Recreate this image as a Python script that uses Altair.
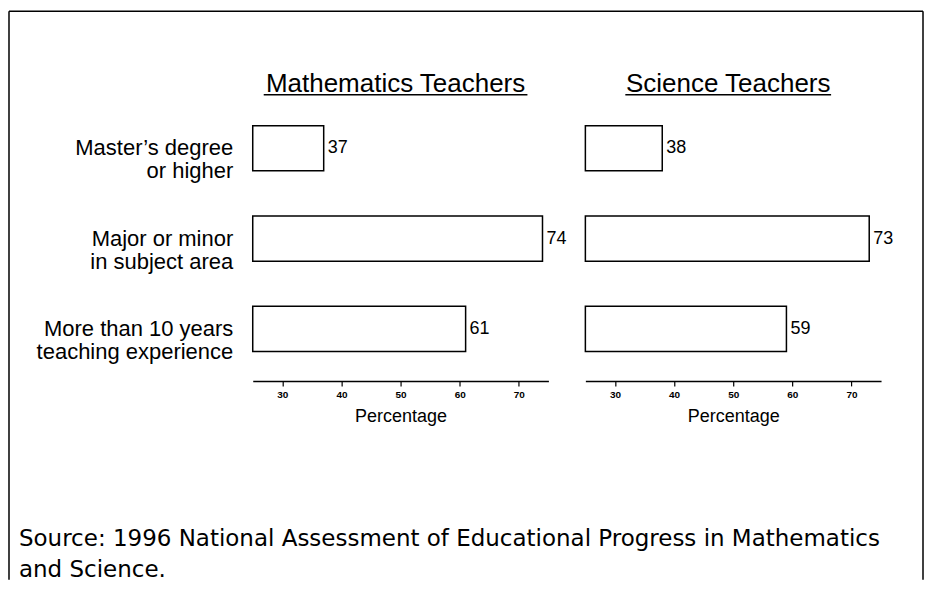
import altair as alt
import pandas as pd

# ---- data ----
categories = [
    "Master’s degree\nor higher",
    "Major or minor\nin subject area",
    "More than 10 years\nteaching experience",
]
math_values = [37, 74, 61]
science_values = [38, 73, 59]
panel_titles = ["Mathematics Teachers", "Science Teachers"]
x_ticks = [30, 40, 50, 60, 70]
axis_min, axis_max = 25, 75
x_title = "Percentage"
source_text = "Source: 1996 National Assessment of Educational Progress in Mathematics\nand Science."

FONT = "Liberation Sans"
PANEL_W = 296
PANEL_H = 285


def one_row(**kw):
    return pd.DataFrame({k: [v] for k, v in kw.items()})


def panel(values, title, show_labels, underline, extras=()):
    df = pd.DataFrame({"cat": categories, "val": values, "base": [axis_min] * len(values)})
    y_enc = alt.Y(
        "cat:N",
        sort=categories,
        scale=alt.Scale(paddingInner=0.5, paddingOuter=0.326),
        axis=alt.Axis(
            title=None, domain=False, ticks=False,
            labelExpr="split(datum.label, '\\n')",
            labelFont=FONT, labelFontSize=22, labelLineHeight=23,
            labelColor="black", labelPadding=20, labelAlign="right",
            labelBaseline="middle", labelLimit=400,
        ) if show_labels else None,
    )
    x_enc = alt.X(
        "val:Q",
        scale=alt.Scale(domain=[axis_min, axis_max], zero=False, nice=False),
        axis=alt.Axis(
            values=x_ticks, title=x_title, grid=False,
            domainColor="black", domainWidth=1.5,
            tickColor="black", tickSize=5, tickWidth=1.2,
            labelFont=FONT, labelFontSize=10, labelFontWeight="bold",
            labelColor="black", labelPadding=4,
            titleFont=FONT, titleFontSize=18, titleFontWeight="normal",
            titleColor="black", titlePadding=8,
        ),
    )
    base = alt.Chart(df)
    bars = base.mark_bar(fill="white", stroke="black", strokeWidth=1.5).encode(
        x=x_enc, x2="base:Q", y=y_enc
    )
    labels = base.mark_text(
        align="left", baseline="middle", dx=4, font=FONT, fontSize=18, color="black"
    ).encode(x="val:Q", y=alt.Y("cat:N", sort=categories), text="val:Q")
    ttl = alt.Chart(one_row(t=title)).mark_text(
        align="center", baseline="alphabetic", font=FONT, fontSize=26, color="black"
    ).encode(text="t:N", x=alt.value(143), y=alt.value(-4))
    uline = alt.Chart(one_row(t=title)).mark_rule(color="black", strokeWidth=1.5).encode(
        x=alt.value(underline[0]), x2=alt.value(underline[1]), y=alt.value(-1.5)
    )
    return alt.layer(bars, labels, ttl, uline, *extras).properties(
        width=PANEL_W, height=PANEL_H
    )


# frame and source note (placed in the left panel's coordinates)
frame_top = alt.Chart(one_row(k="top")).mark_rule(color="black", strokeWidth=1.5).encode(
    x=alt.value(-244), x2=alt.value(671), y=alt.value(-85)
)
frame_left = alt.Chart(one_row(k="left")).mark_rule(color="black", strokeWidth=1.5).encode(
    x=alt.value(-244), y=alt.value(-85), y2=alt.value(484)
)
frame_right = alt.Chart(one_row(k="right")).mark_rule(color="black", strokeWidth=1.5).encode(
    x=alt.value(671), y=alt.value(-85), y2=alt.value(484)
)
source = alt.Chart(one_row(t=source_text)).mark_text(
    align="left", baseline="alphabetic", font="DejaVu Sans", fontSize=23,
    lineHeight=31, lineBreak="\n", color="black"
).encode(text="t:N", x=alt.value(-234), y=alt.value(450))

left = panel(math_values, panel_titles[0], True, (11, 275),
             extras=(frame_top, frame_left, frame_right, source))
right = panel(science_values, panel_titles[1], False, (40, 246))

chart = alt.hconcat(left, right, spacing=37, bounds="flush").properties(
    padding={"left": 0, "top": 2, "right": 0, "bottom": 0},
    background="white",
).configure_view(strokeWidth=0, stroke=None)

chart.save("out.html", embed_options={"renderer": "svg", "actions": False})
